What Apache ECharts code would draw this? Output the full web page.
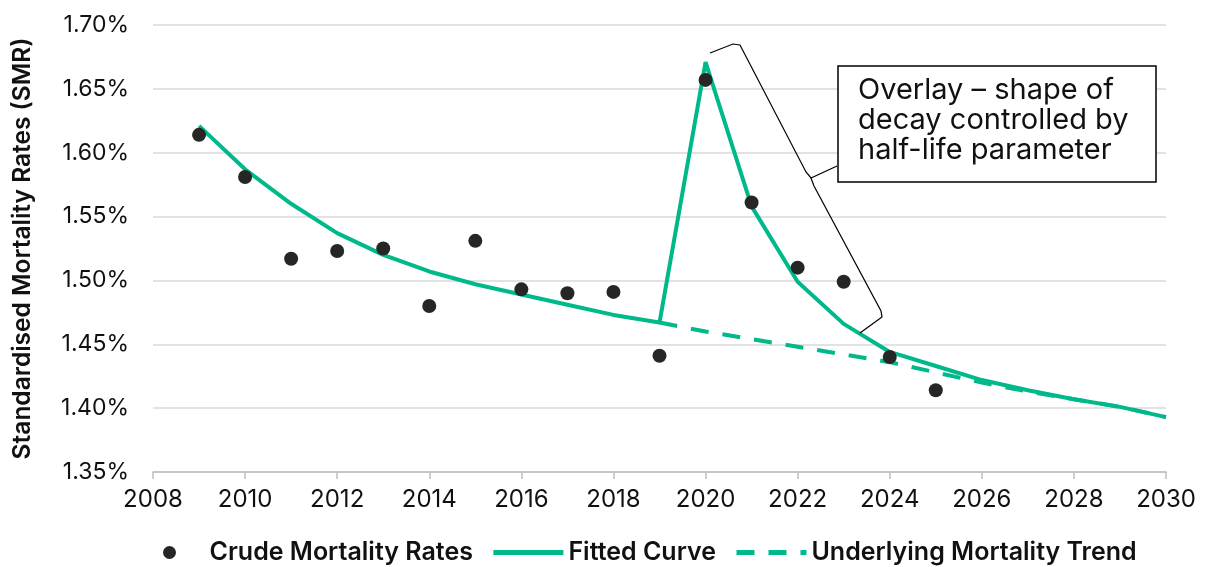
<!DOCTYPE html>
<html>
<head>
<meta charset="utf-8">
<script src="https://cdn.jsdelivr.net/npm/echarts@6/dist/echarts.min.js"></script>
<style>
  html, body { margin: 0; padding: 0; background: #fff; }
  #chart { width: 1214px; height: 567px; }
</style>
</head>
<body>
<div id="chart"></div>
<script>
// years on the x axis
var years = [2009, 2010, 2011, 2012, 2013, 2014, 2015, 2016, 2017, 2018, 2019,
             2020, 2021, 2022, 2023, 2024, 2025, 2026, 2027, 2028, 2029, 2030];

// crude rates, 2009-2025 (%)
var crudeYears = [2009, 2010, 2011, 2012, 2013, 2014, 2015, 2016, 2017, 2018, 2019,
                  2020, 2021, 2022, 2023, 2024, 2025];
var crudeRates = [1.614, 1.581, 1.517, 1.523, 1.525, 1.480, 1.531, 1.493, 1.490, 1.491, 1.441,
                  1.657, 1.561, 1.510, 1.499, 1.440, 1.414];

// fitted curve (%)
var fittedRates = [1.621, 1.587, 1.560, 1.537, 1.520, 1.507, 1.497, 1.489, 1.481, 1.473, 1.467,
                   1.671, 1.558, 1.499, 1.466, 1.444, 1.433, 1.422, 1.414, 1.407, 1.401, 1.393];

// underlying trend from 2019 on (%)
var trendYears = [2019, 2020, 2021, 2022, 2023, 2024, 2025, 2026, 2027, 2028, 2029, 2030];
var trendRates = [1.467, 1.460, 1.454, 1.448, 1.442, 1.436, 1.428, 1.420, 1.413, 1.407, 1.401, 1.393];

var green = '#00b98b';
var font = 'Inter';

function pairs(xs, ys) {
  return xs.map(function (x, i) { return [x, ys[i]]; });
}

var chart = echarts.init(document.getElementById('chart'));

var hideSymbol = { color: 'rgba(0,0,0,0)', borderWidth: 0, opacity: 0 };

var option = {
  animation: false,
  textStyle: { fontFamily: font },
  grid: { left: 153, right: 48, top: 25, bottom: 95 },
  legend: {
    top: 535,
    left: 158,
    itemWidth: 70,
    itemHeight: 13,
    itemGap: 18,
    lineStyle: { width: 5 },
    textStyle: { fontSize: 25, fontWeight: 600, color: '#111', fontFamily: font },
    data: [
      { name: 'Crude Mortality Rates', icon: 'circle' },
      { name: 'Fitted Curve', itemStyle: hideSymbol },
      { name: 'Underlying Mortality Trend', itemStyle: hideSymbol }
    ]
  },
  xAxis: {
    type: 'value',
    min: 2008,
    max: 2030,
    interval: 2,
    axisLine: { show: true, lineStyle: { color: '#bfbfbf', width: 1.5 } },
    axisTick: { show: true, length: 7, lineStyle: { color: '#bfbfbf', width: 1.5 } },
    axisLabel: {
      fontSize: 24,
      color: '#111',
      margin: 16,
      formatter: function (v) { return String(v); }
    },
    splitLine: { show: false }
  },
  yAxis: {
    type: 'value',
    min: 1.35,
    max: 1.70,
    interval: 0.05,
    name: 'Standardised Mortality Rates (SMR)',
    nameLocation: 'middle',
    nameGap: 118,
    nameTextStyle: { fontSize: 24.5, fontWeight: 600, color: '#111' },
    axisLine: { show: false },
    axisTick: { show: false },
    axisLabel: {
      fontSize: 23,
      color: '#111',
      margin: 24,
      formatter: function (v) { return v.toFixed(2) + '%'; }
    },
    splitLine: { lineStyle: { color: '#d9d9d9', width: 1.5 } }
  },
  series: [
    {
      name: 'Underlying Mortality Trend',
      type: 'line',
      symbol: 'none',
      z: 2,
      data: pairs(trendYears, trendRates),
      lineStyle: { color: green, width: 4, type: [18, 14] },
      itemStyle: { color: green }
    },
    {
      name: 'Fitted Curve',
      type: 'line',
      symbol: 'none',
      z: 3,
      data: pairs(years, fittedRates),
      lineStyle: { color: green, width: 4 },
      itemStyle: { color: green }
    },
    {
      name: 'Crude Mortality Rates',
      type: 'scatter',
      symbolSize: 14,
      z: 4,
      data: pairs(crudeYears, crudeRates),
      itemStyle: { color: '#262626', opacity: 1 }
    }
  ],
  graphic: [
    // curly brace along the decay
    {
      type: 'polyline',
      z: 100,
      shape: {
        points: [[710, 53], [733, 44], [740, 45], [806, 172], [811, 178], [837, 166]]
      },
      style: { stroke: '#000', lineWidth: 1.2, fill: null }
    },
    {
      type: 'polyline',
      z: 100,
      shape: {
        points: [[811, 178], [814, 186], [881, 311], [882, 317], [860, 333]]
      },
      style: { stroke: '#000', lineWidth: 1.2, fill: null }
    },
    // annotation box
    {
      type: 'rect',
      z: 100,
      shape: { x: 838, y: 66, width: 318, height: 116 },
      style: { fill: '#fff', stroke: '#000', lineWidth: 1.5 }
    },
    {
      type: 'text',
      z: 101,
      left: 858,
      top: 75,
      style: {
        text: 'Overlay – shape of\ndecay controlled by\nhalf-life parameter',
        font: '29px ' + font,
        lineHeight: 30,
        fill: '#111'
      }
    }
  ]
};

chart.setOption(option);
</script>
</body>
</html>
